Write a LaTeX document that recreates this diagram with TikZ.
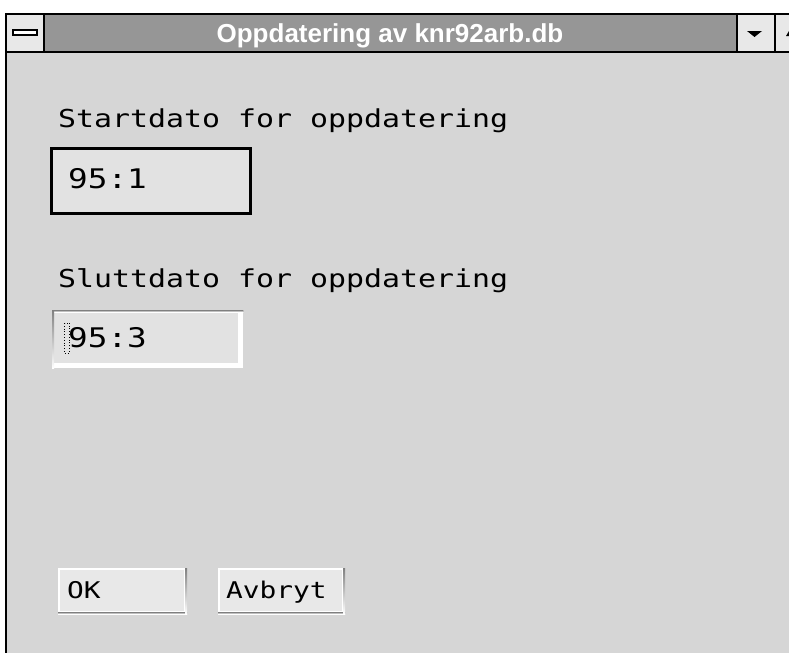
\documentclass[tikz,border=0pt]{standalone}
\usepackage{fontspec}
\newfontfamily\uifont[FakeStretch=1.21]{DejaVu Sans Mono}
\newfontfamily\titlefont{Liberation Sans}
\definecolor{clientbg}{RGB}{214,214,214}
\definecolor{titlebg}{RGB}{150,150,150}
\definecolor{boxbg}{RGB}{232,232,232}
\definecolor{fieldbg}{RGB}{226,226,226}
\definecolor{shade}{RGB}{140,140,140}
\tikzset{
  lbl/.style={inner sep=0pt, anchor=base west, text=black, font=\uifont\fontsize{24.7}{26}\selectfont},
  fieldtxt/.style={inner sep=0pt, anchor=base west, text=black, font=\uifont\fontsize{27}{28}\selectfont},
  btntxt/.style={inner sep=0pt, anchor=base west, text=black, font=\uifont\fontsize{23}{24}\selectfont},
  btnface/.style={inner sep=0pt, fill=boxbg, draw=white, line width=2pt, anchor=north west},
  frame/.style={line width=2.5pt, draw=black},
}
\begin{document}
\begin{tikzpicture}[x=1pt,y=-1pt]
\useasboundingbox (0,0) rectangle (789,653);
\fill[white] (0,0) rectangle (789,653);
% client area
\fill[clientbg] (6,53) rectangle (789,653);
% title bar
\fill[titlebg] (44,13) rectangle (737,53);
\fill[boxbg] (6,13) rectangle (44,53);
\fill[boxbg] (737,13) rectangle (789,53);
\draw[frame] (6,14) -- (789,14);
\draw[frame] (6,52) -- (789,52);
\draw[line width=2pt] (6,13) -- (6,653);
\draw[line width=2pt] (44,14) -- (44,52);
\draw[line width=2pt] (737,14) -- (737,52);
\draw[line width=2pt] (775,14) -- (775,52);
% close box icon
\draw[line width=1.5pt, fill=white] (13,30) rectangle (37,35);
% minimize arrow
\fill (747,31) -- (762,31) -- (754.5,37) -- cycle;
\fill (786,36) -- (789,36) -- (789,31) -- cycle;
% title
\node[text=white, inner sep=0pt, anchor=base, font=\titlefont\bfseries\fontsize{26}{26}\selectfont] (title) at (390,42) {Oppdatering av knr92arb.db};

% start label and field
\node[lbl] (startlbl) at (58,127) {Startdato for oppdatering};
\node[draw=black, line width=3pt, fill=fieldbg, minimum width=199pt, minimum height=65pt, inner sep=0pt, anchor=north west] (field1) at (49.5,146.5) {};
\node[fieldtxt] (val1) at (68,188) {95:1};

% end label and field
\node[lbl] (sluttlbl) at (58,287) {Sluttdato for oppdatering};
\node[fill=white, minimum width=191pt, minimum height=58pt, inner sep=0pt, anchor=north west] (field2) at (52,310) {};
\fill[fieldbg] (54,312) rectangle (238,363);
\fill[shade] (field2.north west) rectangle ([xshift=0pt,yshift=-2pt]field2.north east);
\fill[shade] (field2.north west) rectangle ([xshift=2pt]field2.south west);
\node[fieldtxt] (val2) at (68,347) {95:3};
\draw[dotted, line width=0.8pt] (64.5,323) rectangle (69.5,353);

% buttons
\node[btnface, minimum width=126pt, minimum height=43pt] (okbtn) at (58,568) {};
\fill[shade] ([yshift=1pt]okbtn.south west) rectangle ([xshift=1pt,yshift=-1pt]okbtn.south east);
\fill[shade] ([xshift=-1pt]okbtn.north east) rectangle ([xshift=1pt,yshift=-1pt]okbtn.south east);
\node[btntxt] (oktxt) at (67,598) {OK};
\node[btnface, minimum width=124pt, minimum height=43pt] (cancelbtn) at (218,568) {};
\fill[shade] ([yshift=1pt]cancelbtn.south west) rectangle ([xshift=1pt,yshift=-1pt]cancelbtn.south east);
\fill[shade] ([xshift=-1pt]cancelbtn.north east) rectangle ([xshift=1pt,yshift=-1pt]cancelbtn.south east);
\node[btntxt] (canceltxt) at (226,598) {Avbryt};
\end{tikzpicture}
\end{document}
